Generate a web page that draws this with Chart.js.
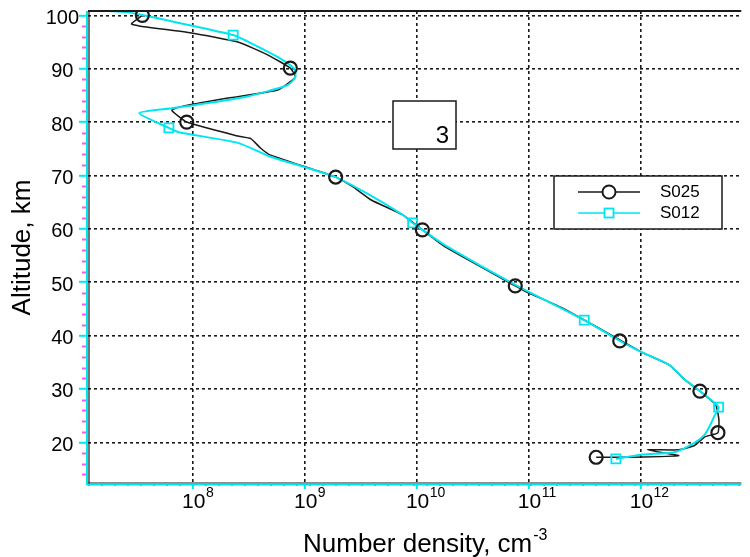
<!DOCTYPE html>
<html>
<head>
<meta charset="utf-8">
<script src="https://cdn.jsdelivr.net/npm/chart.js@4.4.1/dist/chart.umd.min.js"></script>
<style>
  html, body { margin: 0; padding: 0; background: #ffffff; }
  #wrap { width: 750px; height: 557px; position: relative; }
</style>
</head>
<body>
<div id="wrap"><canvas id="c" width="750" height="557"></canvas></div>
<script>
// ---------- data ----------
const altitudeTicks = [20, 30, 40, 50, 60, 70, 80, 90, 100];
const densityTickExponents = [8, 9, 10, 11, 12];
const seriesNames = ['S025', 'S012'];
const panelLabel = '3';

// S025 profile (altitude km, number density cm^-3)
const s025LineAlt = [100.0, 98.4, 98.0, 96.7, 95.0, 92.6, 90.1, 88.4, 86.0, 84.5, 82.8, 82.2, 80.0,
  77.4, 76.9, 75.1, 73.8, 69.7, 67.8, 65.4, 62.6, 59.8, 56.6, 49.3, 48.1, 45.3, 39.2, 36.8, 34.5,
  31.7, 29.6, 27.0, 24.2, 21.8, 21.0, 19.4, 18.6, 18.6, 17.5, 17.2, 17.2];
const s025LineDensity = [3.52e7, 2.81e7, 3.3e7, 9.7e7, 2.52e8, 4.63e8, 7.4e8, 8.2e8, 5.68e8, 2.06e8, 7.45e7, 6.46e7, 8.77e7,
  2.5e8, 3.28e8, 4.02e8, 4.92e8, 1.88e9, 2.71e9, 3.91e9, 7.48e9, 1.12e10, 1.79e10, 7.57e10, 9.66e10, 1.93e11, 6.5e11, 1.04e12, 1.8e12,
  2.49e12, 3.38e12, 4.68e12, 5.0e12, 4.9e12, 3.72e12, 3.02e12, 2.19e12, 1.15e12, 2.19e12, 8.5e11, 4.0e11];
const s025MarkerAlt = [100.0, 90.1, 80.0, 69.7, 59.8, 49.3, 39.0, 29.6, 21.8, 17.2];
const s025MarkerDensity = [3.52e7, 7.4e8, 8.77e7, 1.88e9, 1.12e10, 7.57e10, 6.5e11, 3.38e12, 4.9e12, 4.0e11];

// S012 profile
const s012LineAlt = [100.8, 100.6, 100.06, 98.7, 96.3, 94.8, 92.2, 90.0, 88.4, 86.9, 84.7, 83.2, 82.6, 81.7,
  78.9, 78.1, 76.1, 73.5, 71.6, 69.7, 66.4, 62.6, 61.1, 59.8, 56.9, 49.5, 42.9, 39.0, 36.8, 34.5,
  31.7, 29.6, 26.6, 25.0, 23.2, 21.4, 19.9, 18.2, 17.7, 16.9];
const s012LineDensity = [1.73e7, 2.54e7, 3.52e7, 7.0e7, 2.28e8, 3.28e8, 5.68e8, 8.0e8, 8.2e8, 6.95e8, 2.9e8, 1.05e8, 6.46e7, 3.3e7,
  6.08e7, 7.45e7, 2.52e8, 4.92e8, 9.8e8, 1.88e9, 3.75e9, 7.48e9, 9.16e9, 1.12e10, 1.79e10, 7.57e10, 3.13e11, 6.5e11, 1.04e12, 1.8e12,
  2.49e12, 3.38e12, 4.97e12, 4.57e12, 4.17e12, 3.72e12, 3.02e12, 2.04e12, 1.05e12, 6.0e11];
const s012MarkerAlt = [96.3, 78.9, 61.1, 42.9, 26.6, 16.9];
const s012MarkerDensity = [2.28e8, 6.08e7, 9.16e9, 3.13e11, 4.97e12, 6.0e11];

// ---------- styling ----------
const CYAN = '#00E6F0';
const BLACK = '#1a1a1a';
const MAGENTA = '#ff55ee';
const FONT = '"Liberation Sans", Arial, sans-serif';

function pairs(xs, ys) { return xs.map((x, i) => ({ x: x, y: ys[i] })); }

const decor = {
  id: 'decor',
  afterDatasetsDraw(chart) {
    const ctx = chart.ctx;
    const a = chart.chartArea;
    const xs = chart.scales.x, ys = chart.scales.y;
    ctx.save();

    // magenta minor ticks on altitude axis (every 2 km)
    ctx.strokeStyle = MAGENTA; ctx.lineWidth = 2;
    for (let v = 14; v <= 100; v += 2) {
      if (v % 10 === 0) continue;
      const y = Math.round(ys.getPixelForValue(v)) + 0.5;
      ctx.beginPath(); ctx.moveTo(a.left - 6, y); ctx.lineTo(a.left - 1, y); ctx.stroke();
    }
    // magenta dotted trace along the bottom axis
    ctx.setLineDash([2, 11]);
    ctx.beginPath(); ctx.moveTo(a.left, a.bottom + 1); ctx.lineTo(a.right, a.bottom + 1); ctx.stroke();
    ctx.setLineDash([]);

    // frame: black top/left/bottom + cyan axis lines
    ctx.strokeStyle = BLACK; ctx.lineWidth = 2;
    ctx.beginPath(); ctx.moveTo(a.left, a.top); ctx.lineTo(a.right, a.top); ctx.stroke();
    ctx.lineWidth = 1.2;
    ctx.beginPath(); ctx.moveTo(a.left + 1, a.top); ctx.lineTo(a.left + 1, a.bottom); ctx.stroke();
    ctx.beginPath(); ctx.moveTo(a.left, a.bottom - 1); ctx.lineTo(a.right, a.bottom - 1); ctx.stroke();
    ctx.strokeStyle = CYAN; ctx.lineWidth = 2;
    ctx.beginPath(); ctx.moveTo(a.left - 1, a.top); ctx.lineTo(a.left - 1, a.bottom + 1); ctx.stroke();
    ctx.beginPath(); ctx.moveTo(a.left - 1, a.bottom + 0.5); ctx.lineTo(a.right, a.bottom + 0.5); ctx.stroke();

    // panel label box
    ctx.fillStyle = '#fff'; ctx.fillRect(393, 101, 63, 48);
    ctx.strokeStyle = BLACK; ctx.lineWidth = 1.5; ctx.strokeRect(393, 101, 63, 48);
    ctx.fillStyle = '#000'; ctx.font = '24px ' + FONT; ctx.textAlign = 'right'; ctx.textBaseline = 'alphabetic';
    ctx.fillText(panelLabel, 449, 143);

    // legend
    const lx = 554, ly = 176, lw = 168, lh = 53;
    ctx.fillStyle = '#fff'; ctx.fillRect(lx, ly, lw, lh);
    ctx.strokeStyle = BLACK; ctx.lineWidth = 1.5; ctx.strokeRect(lx, ly, lw, lh);
    // S025 sample
    ctx.strokeStyle = BLACK; ctx.lineWidth = 1.5;
    ctx.beginPath(); ctx.moveTo(578, 192); ctx.lineTo(602, 192); ctx.moveTo(616, 192); ctx.lineTo(640, 192); ctx.stroke();
    ctx.lineWidth = 2; ctx.beginPath(); ctx.arc(609, 192, 6.5, 0, Math.PI * 2); ctx.stroke();
    // S012 sample
    ctx.strokeStyle = CYAN; ctx.lineWidth = 1.5;
    ctx.beginPath(); ctx.moveTo(578, 213); ctx.lineTo(604, 213); ctx.moveTo(614, 213); ctx.lineTo(640, 213); ctx.stroke();
    ctx.lineWidth = 1.8; ctx.strokeRect(604.5, 208.5, 9, 9);
    ctx.fillStyle = '#000'; ctx.font = '17px ' + FONT; ctx.textAlign = 'left'; ctx.textBaseline = 'middle';
    ctx.fillText(seriesNames[0], 660, 192);
    ctx.fillText(seriesNames[1], 660, 213);

    // x tick labels with superscript exponents
    ctx.textBaseline = 'alphabetic'; ctx.textAlign = 'left';
    densityTickExponents.forEach(e => {
      const px = xs.getPixelForValue(Math.pow(10, e));
      ctx.font = '21px ' + FONT;
      const x0 = px - 11;
      ctx.fillText('10', x0, 508);
      const w = ctx.measureText('10').width;
      ctx.font = '14px ' + FONT;
      ctx.fillText(String(e), x0 + w + 0.5, 497);
    });

    // x axis title with superscript
    ctx.font = '26px ' + FONT;
    const t = 'Number density, cm';
    ctx.fillText(t, 303, 552);
    const tw = ctx.measureText(t).width;
    ctx.font = '16px ' + FONT;
    ctx.fillText('-3', 303 + tw + 1, 540);
    ctx.restore();
  }
};

new Chart(document.getElementById('c'), {
  type: 'scatter',
  data: {
    datasets: [
      { label: seriesNames[0] + ' markers', data: pairs(s025MarkerDensity, s025MarkerAlt), showLine: false,
        pointStyle: 'circle', pointRadius: 6.5, pointBorderWidth: 2.2, pointBorderColor: BLACK,
        pointBackgroundColor: 'rgba(0,0,0,0)', order: 0 },
      { label: seriesNames[1] + ' markers', data: pairs(s012MarkerDensity, s012MarkerAlt), showLine: false,
        pointStyle: 'rect', pointRadius: 6.4, pointBorderWidth: 1.8, pointBorderColor: CYAN,
        pointBackgroundColor: 'rgba(0,0,0,0)', order: 1 },
      { label: seriesNames[1], data: pairs(s012LineDensity, s012LineAlt), showLine: true,
        borderColor: CYAN, borderWidth: 2, pointRadius: 0, tension: 0.2, order: 2 },
      { label: seriesNames[0], data: pairs(s025LineDensity, s025LineAlt), showLine: true,
        borderColor: BLACK, borderWidth: 1.5, pointRadius: 0, tension: 0.15, order: 3 }
    ]
  },
  options: {
    responsive: false,
    animation: false,
    devicePixelRatio: 1,
    layout: { padding: { top: 11, right: 0, bottom: 0, left: 0 } },
    plugins: { legend: { display: false }, tooltip: { enabled: false } },
    scales: {
      x: {
        type: 'logarithmic',
        min: Math.pow(10, 7.061),
        max: Math.pow(10, 12.899),
        afterBuildTicks: (s) => { s.ticks = densityTickExponents.map(e => ({ value: Math.pow(10, e) })); },
        afterFit: (s) => { s.height = 73; },
        ticks: { display: false },
        grid: { color: BLACK, lineWidth: 1.6, drawTicks: true, tickLength: 5, tickColor: CYAN, tickWidth: 2 },
        border: { display: false, dash: [3, 3] }
      },
      y: {
        type: 'linear',
        min: 12.19,
        max: 100.81,
        afterBuildTicks: (s) => { s.ticks = altitudeTicks.map(v => ({ value: v })); },
        afterFit: (s) => { s.width = 88; },
        ticks: { color: '#000', font: { family: FONT, size: 20, lineHeight: 1 }, padding: 0,
                 crossAlign: 'center', labelOffset: 3, callback: (v) => String(v) },
        grid: { color: BLACK, lineWidth: 1.6, drawTicks: true, tickLength: 9, tickColor: CYAN, tickWidth: 2 },
        border: { display: false, dash: [3, 3] },
        title: { display: true, text: 'Altitude, km', color: '#000',
                 font: { family: FONT, size: 26 }, padding: { top: 7, bottom: 0 } }
      }
    }
  },
  plugins: [decor]
});
</script>
</body>
</html>
